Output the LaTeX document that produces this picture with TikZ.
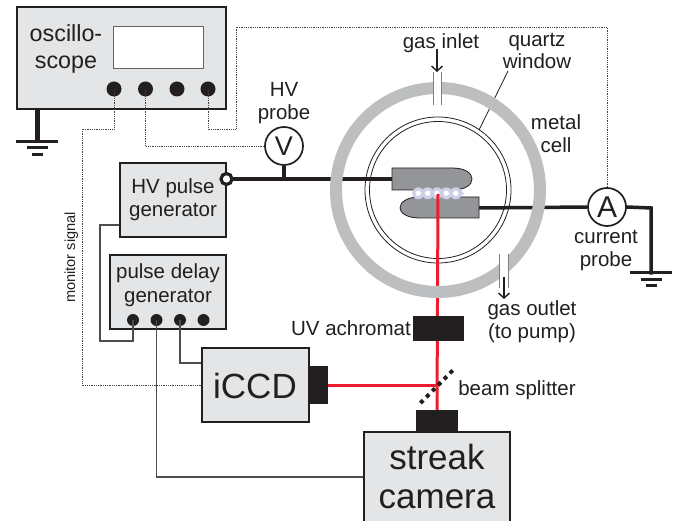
\documentclass[tikz,border=0pt]{standalone}
\usepackage{fontspec}
\setmainfont{Liberation Sans}
\usetikzlibrary{arrows.meta}
\definecolor{ink}{HTML}{231F20}
\definecolor{boxfill}{HTML}{E4E5E6}
\definecolor{ringgray}{HTML}{BCBEC0}
\definecolor{elec}{HTML}{939598}
\definecolor{beamred}{HTML}{ED1C2E}
\definecolor{plasma}{HTML}{CFCFE8}
\tikzset{
  box/.style={draw=ink,fill=boxfill,line width=2pt,inner sep=0pt,minimum width=#1},
  box/.default=100pt,
  blackblock/.style={fill=ink,inner sep=0pt},
  txt/.style={anchor=base,inner sep=0pt,text=ink,font=\fontsize{20.5}{24}\selectfont},
  bigtxt/.style={anchor=base,inner sep=0pt,text=ink,font=\fontsize{35}{40}\selectfont},
  port/.style={circle,fill=ink,inner sep=0pt,minimum size=#1},
  meter/.style={circle,draw=ink,fill=white,line width=1.7pt,inner sep=0pt,minimum size=38pt,text=ink},
  dotwire/.style={draw=ink!85,line width=0.75pt,dash pattern=on 0.9pt off 0.9pt},
  sigwire/.style={draw=ink!80,line width=1.1pt},
  hvwire/.style={draw=ink,line width=3.5pt},
  gnd/.style={draw=ink,line width=3pt},
  beam/.style={draw=beamred,line width=3pt},
  thin line/.style={draw=ink,line width=0.8pt},
  tube/.style={draw=gray,line width=0.5pt},
  gasarrow/.style={draw=ink,line width=1.4pt,-{Straight Barb[length=5pt,width=11pt,line width=1.4pt]}}
}
\begin{document}
\begin{tikzpicture}[x=1pt,y=-1pt]
\useasboundingbox (0,0) rectangle (680,521);
\fill[white] (0,0) rectangle (680,521);

% instruments
\node[box=209pt,minimum height=102pt] (osc) at (121.5,58) {};
\node[draw=ink!70,fill=white,line width=1pt,inner sep=0pt,minimum width=90pt,minimum height=42pt] (screen) at (158.5,48) {};
\node[box=106pt,minimum height=74pt] (hv) at (173,200) {};
\node[box=116pt,minimum height=74pt] (pd) at (168,292) {};
\node[box=107pt,minimum height=74pt] (iccd) at (255.5,385) {};
\node[box=146pt,minimum height=94pt] (streak) at (437,479) {};
\node[blackblock,minimum width=18pt,minimum height=38pt] (iccdcam) at (319,385) {};
\node[blackblock,minimum width=42pt,minimum height=21pt] (streakcam) at (437,420.5) {};

% ports
\node[port=15pt] (o1) at (114,89) {};
\node[port=15pt] (o2) at (145.5,89) {};
\node[port=15pt] (o3) at (177,89) {};
\node[port=15pt] (o4) at (208,89) {};
\node[port=12pt] (p1) at (133,320) {};
\node[port=12pt] (p2) at (156.5,320) {};
\node[port=12pt] (p3) at (180,320) {};
\node[port=12pt] (p4) at (203.5,320) {};

% meters
\node[meter,font=\fontsize{27}{27}\selectfont] (V) at (284,146) {V};
\node[meter,font=\fontsize{30}{30}\selectfont] (A) at (607,207) {A};

% anchor points
\coordinate (hvout) at (119,225);
\coordinate (iccdin) at (201,363);
\coordinate (streakin) at (363,477);
\coordinate (term) at (226.5,179);
\coordinate (eup) at (392,179);
\coordinate (elow) at (479,208);
\coordinate (spark) at (438,194);
\coordinate (split) at (438,385);
\coordinate (corner) at (651,208);
\coordinate (gndA) at (37,141.5);
\coordinate (gndB) at (651,273);
\coordinate (leadA) at (508,71);
\coordinate (leadB) at (479,130);

% signal wires
\draw[dotwire] (o4.center) |- (236,129) -- (236,27) -| (A.north);
\draw[dotwire] (o1.center) |- (82,129) |- (iccd.west);
\draw[dotwire] (o2.center) |- (V.west);
\draw[sigwire] (hvout) -| (100,341) -| (p1.center);
\draw[sigwire] (p3.center) |- (iccdin);
\draw[sigwire] (p2.center) |- (streakin);

% high voltage and current wires
\draw[hvwire] (term) -- (eup);
\draw[hvwire] (V.south) -- (V.south |- term);
\draw[hvwire] (elow) -- (A.west);
\draw[hvwire,line cap=rect] (A.east) -- (corner) -- (gndB);
\node[circle,draw=ink,fill=white,line width=3.2pt,inner sep=0pt,minimum size=11pt] (termc) at (term) {};

% grounds
\draw[draw=ink,line width=5pt] (osc.south -| gndA) -- (gndA);
\draw[gnd] ([xshift=-21pt]gndA) -- ([xshift=21pt]gndA);
\draw[gnd] ([xshift=-10.5pt,yshift=-6.5pt]gndA) -- ([xshift=10.5pt,yshift=-6.5pt]gndA);
\draw[gnd] ([xshift=-5.5pt,yshift=-13pt]gndA) -- ([xshift=5.5pt,yshift=-13pt]gndA);
\draw[gnd] ([xshift=-21pt]gndB) -- ([xshift=21pt]gndB);
\draw[gnd] ([xshift=-10.5pt,yshift=-6.5pt]gndB) -- ([xshift=10.5pt,yshift=-6.5pt]gndB);
\draw[gnd] ([xshift=-5.5pt,yshift=-13pt]gndB) -- ([xshift=5.5pt,yshift=-13pt]gndB);

% quartz window
\draw[thin line] (438,190) circle[radius=73];
\draw[thin line] (438,190) circle[radius=68.5];
\draw[thin line] (leadA) -- (leadB);

% electrodes
\draw[fill=elec,draw=ink,line width=0.8pt] (392,168) -- (452,168) .. controls (465,168) and (472,173) .. (472,179) .. controls (472,185) and (465,190) .. (452,190) -- (392,190) -- cycle;
\draw[fill=elec,draw=ink,line width=0.8pt] (479,197) -- (420,197) .. controls (407,197) and (400,202) .. (400,208) .. controls (400,213) and (407,218) .. (420,218) -- (479,218) -- cycle;

% discharge
\foreach \x in {418.3,427.7,437,446.3,455.7}{
  \fill[plasma] (\x,193.3) circle[radius=6];
}
\fill[plasma] (412,193.3) -- (418,187.5) -- (418,199) -- cycle;
\fill[plasma] (464,193.3) -- (458,187.5) -- (458,199) -- cycle;
\foreach \x in {418.3,427.7,437,446.3,455.7}{
  \fill[white] (\x,193.3) circle[radius=2.7];
}

% beams
\draw[beam] (spark) -- (streakcam.north);
\draw[beam] (iccdcam.east) -- (split);
\node[blackblock,minimum width=51pt,minimum height=25pt] (ach) at (438.5,328.5) {};
\draw[draw=ink,line width=4pt,dash pattern=on 4pt off 4.4pt] (420.4,403.1) -- (453.8,369.3);

% metal cell, over wires and beam
\draw[draw=ringgray,line width=12pt] (438,190) circle[radius=102];

% gas tubes
\fill[white] (433,72) rectangle (441,105);
\draw[tube] (433,72) -- (433,105) (441,72) -- (441,105);
\fill[white] (499,254) rectangle (508,288);
\draw[tube] (499,254) -- (499,288) (508,254) -- (508,288);
\coordinate (inA) at (437,49);
\coordinate (inB) at (437,72);
\coordinate (outA) at (504,277);
\coordinate (outB) at (504,299);
\draw[gasarrow] (inA) -- (inB);
\draw[gasarrow] (outA) -- (outB);

% labels
\node[txt,font=\fontsize{23.3}{24}\selectfont] (t1) at (66,42) {oscillo-};
\node[txt,font=\fontsize{23.3}{24}\selectfont] (t2) at (66,69) {scope};
\node[txt] (t3) at (284,97) {HV};
\node[txt] (t4) at (284,120) {probe};
\node[txt] (t5) at (173,194) {HV pulse};
\node[txt] (t6) at (173,217) {generator};
\node[txt] (t7) at (168,279) {pulse delay};
\node[txt] (t8) at (168,302) {generator};
\node[bigtxt] (t9) at (255,398) {iCCD};
\node[bigtxt] (t10) at (437,469) {streak};
\node[bigtxt] (t11) at (437,508) {camera};
\node[txt] (t12) at (351,335) {UV achromat};
\node[txt] (t13) at (441,49) {gas inlet};
\node[txt] (t14) at (537,47) {quartz};
\node[txt] (t15) at (537,69) {window};
\node[txt] (t16) at (556,130) {metal};
\node[txt] (t17) at (556,153) {cell};
\node[txt] (t18) at (606,244) {current};
\node[txt] (t19) at (606,267) {probe};
\node[txt] (t20) at (532,316) {gas outlet};
\node[txt] (t21) at (532,338) {(to pump)};
\node[txt] (t22) at (517,395) {beam splitter};
\node[anchor=base,inner sep=0pt,text=ink,font=\fontsize{14.6}{16}\selectfont,rotate=90] (t23) at (75,257.5) {monitor signal};
\end{tikzpicture}
\end{document}
